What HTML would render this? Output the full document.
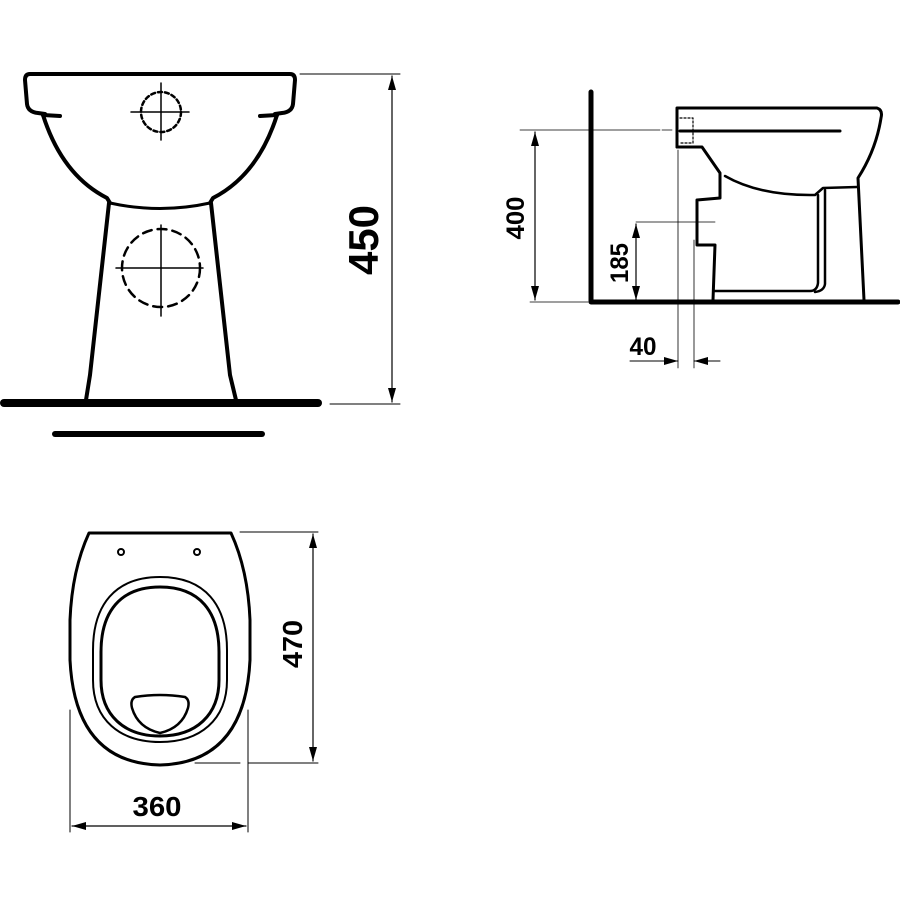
<!DOCTYPE html>
<html><head><style>
html,body{margin:0;padding:0;background:#fff;width:900px;height:900px;overflow:hidden}
text{font-family:"Liberation Sans",sans-serif;font-weight:bold;fill:#000}
</style></head><body>
<svg width="900" height="900" viewBox="0 0 900 900" xmlns="http://www.w3.org/2000/svg">
<defs>
<marker id="a" viewBox="0 0 14 10" refX="14" refY="5" markerWidth="14" markerHeight="10" markerUnits="userSpaceOnUse" orient="auto-start-reverse"><path d="M0,1 L14,5 L0,9Z" fill="#000"/></marker>
</defs>
<g fill="none" stroke="#000" stroke-linecap="round" stroke-linejoin="round">
<!-- FRONT VIEW -->
<path d="M30,74 L290,74 Q295,74 295,80 L293,104 Q292,112 282,113 L275,114" stroke-width="4"/>
<path d="M30,74 Q25,74 25,80 L27,104 Q28,112 38,113 L45,114" stroke-width="4"/>
<path d="M43,115 L60,116 M277,115 L260,116" stroke-width="4"/>
<path d="M43,115 Q62,175 107,198 L110,203" stroke-width="4"/>
<path d="M277,115 Q258,175 213,198 L210,203" stroke-width="4"/>
<path d="M110,203 Q160,214 210,203" stroke-width="3"/>
<path d="M109,203 L90,375 L86,400 M211,203 L230,375 L236,400" stroke-width="4"/>
<line x1="4" y1="403" x2="318" y2="403" stroke-width="8"/>
<line x1="55" y1="434" x2="262" y2="434" stroke-width="6"/>
<circle cx="161" cy="112" r="20" stroke-width="2.5" stroke-dasharray="4,3"/>
<path d="M131,112 L189,112 M161,83 L161,140" stroke-width="1.5"/>
<circle cx="161" cy="268" r="39" stroke-width="2.5" stroke-dasharray="9,6"/>
<path d="M116,268 L203,268 M161,225 L161,316" stroke-width="1.5"/>
<path d="M300,74 L400,74 M330,404 L400,404" stroke-width="1"/>
<line x1="392" y1="76" x2="392" y2="402" stroke-width="1.2" marker-start="url(#a)" marker-end="url(#a)"/>
<!-- SIDE VIEW -->
<path d="M591,92 L591,302 L898,302" stroke-width="5"/>
<path d="M677,147 L677,108 L877,108 Q883,110 881,118 Q876,150 858,178 L864,300" stroke-width="3"/>
<path d="M677,147 L702,147 L720,173 L720,198 L697,200 L697,245 L715,245 L713,300" stroke-width="3"/>
<line x1="680" y1="131" x2="840" y2="131" stroke-width="3"/>
<path d="M680,118 L693,118 L693,143 L680,143" stroke-width="1.2" stroke-dasharray="2,2"/>
<path d="M725,176 Q760,196 815,195 L823,188 L857,187" stroke-width="2.5"/>
<path d="M818,195 L818,283 Q817,291 810,291 L715,291" stroke-width="2.5"/>
<path d="M825,190 L825,284 Q824,291 815,292" stroke-width="2.5"/>
<path d="M520,130 L660,130 M662,130 L672,130 M530,302 L588,302" stroke-width="0.8"/>
<path d="M636,222 L715,222" stroke-width="0.8"/>
<path d="M678,150 L678,368 M694,240 L694,368" stroke-width="0.8"/>
<line x1="535" y1="132" x2="535" y2="300" stroke-width="1.2" marker-start="url(#a)" marker-end="url(#a)"/>
<line x1="636" y1="224" x2="636" y2="300" stroke-width="1.2" marker-start="url(#a)" marker-end="url(#a)"/>
<line x1="630" y1="361" x2="678" y2="361" stroke-width="1" marker-end="url(#a)"/>
<line x1="720" y1="361" x2="694" y2="361" stroke-width="1" marker-end="url(#a)"/>
<!-- TOP VIEW -->
<path d="M89,533 L231,533 Q248,570 250,620 L250,660 Q245,763 160,765 Q75,763 70,660 L70,620 Q72,570 89,533Z" stroke-width="3"/>
<circle cx="121" cy="552" r="3" stroke-width="2"/>
<circle cx="197" cy="552" r="3" stroke-width="2"/>
<path d="M160,577 C205,577 227,605 227,650 L227,680 C227,720 200,742 160,742 C120,742 93,720 93,680 L93,650 C93,605 115,577 160,577Z" stroke-width="2"/>
<path d="M160,587 C200,587 219,612 219,652 L219,680 C219,715 196,736 160,736 C124,736 101,715 101,680 L101,652 C101,612 120,587 160,587Z" stroke-width="3"/>
<path d="M135,697 Q160,693 185,697 Q190,700 188,708 Q182,728 160,733 Q138,728 132,708 Q130,700 135,697Z" stroke-width="2.5"/>
<path d="M240,532 L318,532 M195,763 L240,763 M248,763 L318,763" stroke-width="1"/>
<path d="M70,710 L70,832 M248,710 L248,832" stroke-width="1"/>
<line x1="313" y1="534" x2="313" y2="761" stroke-width="1.2" marker-start="url(#a)" marker-end="url(#a)"/>
<line x1="72" y1="826" x2="246" y2="826" stroke-width="1.2" marker-start="url(#a)" marker-end="url(#a)"/>
</g>
<text x="0" y="0" font-size="42" text-anchor="middle" textLength="70" lengthAdjust="spacingAndGlyphs" transform="translate(378,240) rotate(-90)">450</text>
<text x="0" y="0" font-size="25" text-anchor="middle" textLength="43" lengthAdjust="spacingAndGlyphs" transform="translate(524,218) rotate(-90)">400</text>
<text x="0" y="0" font-size="25" text-anchor="middle" textLength="40" lengthAdjust="spacingAndGlyphs" transform="translate(628,263) rotate(-90)">185</text>
<text x="643" y="355" font-size="25" text-anchor="middle" textLength="27" lengthAdjust="spacingAndGlyphs">40</text>
<text x="0" y="0" font-size="28" text-anchor="middle" textLength="48" lengthAdjust="spacingAndGlyphs" transform="translate(302,644) rotate(-90)">470</text>
<text x="157" y="816" font-size="28" text-anchor="middle" textLength="49" lengthAdjust="spacingAndGlyphs">360</text>
</svg>
</body></html>
